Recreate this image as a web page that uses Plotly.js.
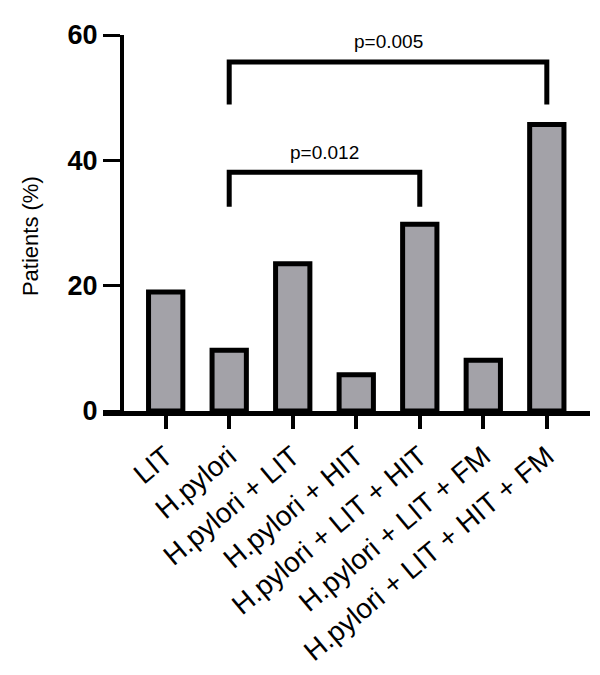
<!DOCTYPE html>
<html>
<head>
<meta charset="utf-8">
<script src="https://cdn.plot.ly/plotly-3.0.1.min.js"></script>
<style>html,body{margin:0;padding:0;background:#fff;}#chart{width:600px;height:675px;}</style>
</head>
<body>
<div id="chart"></div>
<script>
const categories = ['LIT', 'H.pylori', 'H.pylori + LIT', 'H.pylori + HIT', 'H.pylori + LIT + HIT', 'H.pylori + LIT + FM', 'H.pylori + LIT + HIT + FM'];
const patientsPct = [19.0, 9.7, 23.5, 5.8, 29.8, 8.1, 45.7];
const yTickVals = [0, 20, 40, 60];
const bracketFrom = [1, 1];
const bracketTo = [6, 4];
const bracketTop = [55.7, 38.1];
const bracketLeg = [48.9, 32.6];
const pLabels = ['p=0.005', 'p=0.012'];

const FONT = 'Arial, "Liberation Sans", Helvetica, sans-serif';

const shapes = [];
const annotations = [];
for (let i = 0; i < pLabels.length; i++) {
  shapes.push({
    type: 'path', xref: 'x', yref: 'y',
    path: 'M' + bracketFrom[i] + ',' + bracketLeg[i] + ' L' + bracketFrom[i] + ',' + bracketTop[i] +
          ' L' + bracketTo[i] + ',' + bracketTop[i] + ' L' + bracketTo[i] + ',' + bracketLeg[i],
    line: {color: '#000', width: 5}
  });
  annotations.push({
    xref: 'x', yref: 'y', x: (bracketFrom[i] + bracketTo[i]) / 2, y: bracketTop[i],
    text: pLabels[i], showarrow: false, yanchor: 'middle', yshift: 20,
    font: {family: FONT, size: 19, color: '#000'}
  });
}
annotations.push({
  xref: 'paper', yref: 'paper', x: -0.15, y: 0.465, text: 'Patients (%)',
  textangle: -90, showarrow: false, xanchor: 'center', yanchor: 'middle',
  font: {family: FONT, size: 22, color: '#000'}
});

const trace = {
  type: 'bar', x: categories, y: patientsPct, width: 0.54,
  marker: {color: '#a3a2a8', line: {color: '#000', width: 5}},
  hoverinfo: 'skip'
};

const layout = {
  width: 600, height: 675,
  margin: {l: 103, r: 10, t: 35, b: 264},
  paper_bgcolor: '#fff', plot_bgcolor: '#fff',
  showlegend: false,
  xaxis: {
    type: 'category', range: [-0.987, 6.68], automargin: false,
    showline: true, linecolor: '#000', linewidth: 5,
    ticks: 'outside', ticklen: 13, tickwidth: 4, tickcolor: '#000',
    tickangle: -40, showgrid: false, zeroline: false,
    tickfont: {family: FONT, size: 28, color: '#000'}
  },
  yaxis: {
    range: [0, 60], anchor: 'free', position: 0.039, automargin: false,
    tickvals: yTickVals, showline: true, linecolor: '#000', linewidth: 4,
    ticks: 'outside', ticklen: 17, tickwidth: 3, tickcolor: '#000',
    showgrid: false, zeroline: false,
    tickfont: {family: FONT, size: 27, color: '#000', weight: 'bold'}
  },
  shapes: shapes,
  annotations: annotations
};

Plotly.newPlot('chart', [trace], layout, {displayModeBar: false, staticPlot: true});
</script>
</body>
</html>
